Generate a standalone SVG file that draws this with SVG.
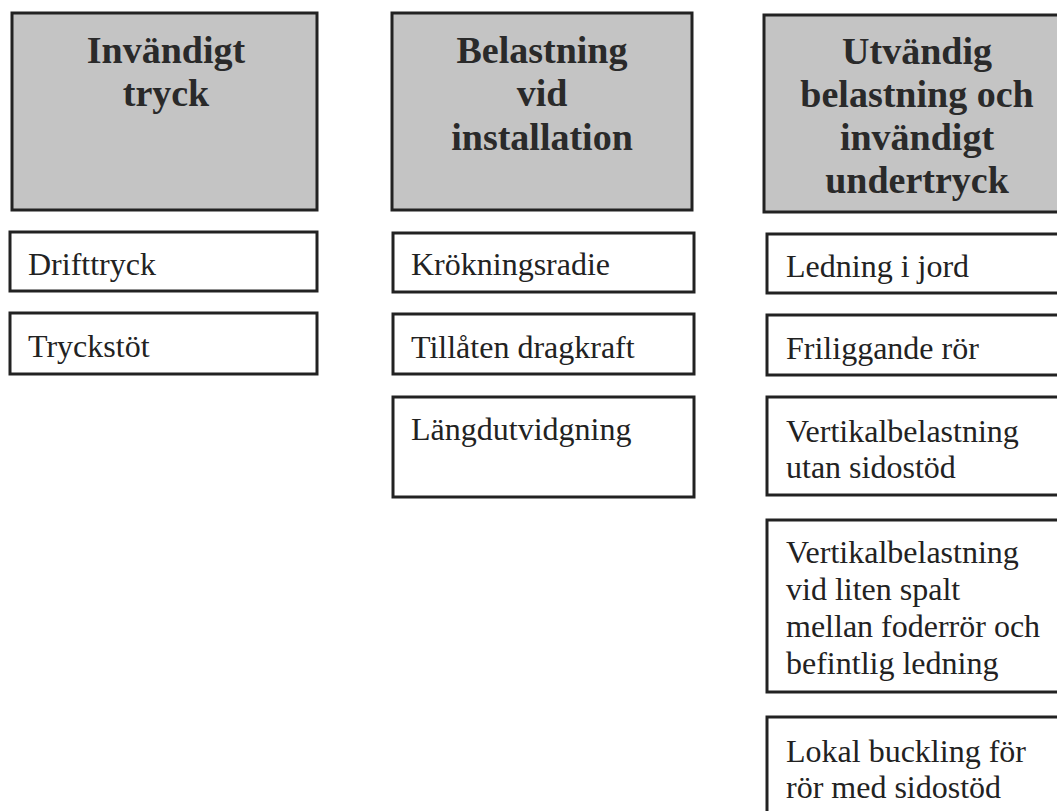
<svg xmlns="http://www.w3.org/2000/svg" width="1057" height="811" viewBox="0 0 1057 811">
<style>
.head{fill:#c4c4c4;stroke:#222;stroke-width:3}
.box{fill:#fff;stroke:#222;stroke-width:3}
.ht{font-family:"Liberation Serif",serif;font-weight:bold;font-size:38px;fill:#2a2a2a;text-anchor:middle}
.bt{font-family:"Liberation Serif",serif;font-size:32px;fill:#222}
</style>
<rect width="1057" height="811" fill="#fff"/>
<g id="head1"><rect class="head" x="12" y="13" width="305" height="197"/>
<text class="ht" x="166" y="63">Invändigt</text><text class="ht" x="166" y="106">tryck</text></g>
<g id="head2"><rect class="head" x="392" y="13" width="300" height="197"/>
<text class="ht" x="542" y="63">Belastning</text><text class="ht" x="542" y="106">vid</text><text class="ht" x="542" y="150">installation</text></g>
<g id="head3"><rect class="head" x="764" y="15" width="310" height="197"/>
<text class="ht" x="917" y="64">Utvändig</text><text class="ht" x="917" y="107">belastning och</text><text class="ht" x="917" y="150">invändigt</text><text class="ht" x="917" y="193">undertryck</text></g>
<g id="c1r1"><rect class="box" x="10" y="232" width="307" height="59"/><text class="bt" x="28" y="275">Drifttryck</text></g>
<g id="c1r2"><rect class="box" x="10" y="313" width="307" height="61"/><text class="bt" x="28" y="357">Tryckstöt</text></g>
<g id="c2r1"><rect class="box" x="393" y="233" width="301" height="59"/><text class="bt" x="411" y="275">Krökningsradie</text></g>
<g id="c2r2"><rect class="box" x="393" y="314" width="301" height="60"/><text class="bt" x="411" y="358">Tillåten dragkraft</text></g>
<g id="c2r3"><rect class="box" x="393" y="397" width="301" height="100"/><text class="bt" x="411" y="440">Längdutvidgning</text></g>
<g id="c3r1"><rect class="box" x="767" y="234" width="310" height="59"/><text class="bt" x="786" y="277">Ledning i jord</text></g>
<g id="c3r2"><rect class="box" x="767" y="315" width="310" height="60"/><text class="bt" x="786" y="359">Friliggande rör</text></g>
<g id="c3r3"><rect class="box" x="767" y="397" width="310" height="98"/><text class="bt" x="786" y="442">Vertikalbelastning</text><text class="bt" x="786" y="478">utan sidostöd</text></g>
<g id="c3r4"><rect class="box" x="767" y="520" width="310" height="172"/><text class="bt" x="786" y="563">Vertikalbelastning</text><text class="bt" x="786" y="600">vid liten spalt</text><text class="bt" x="786" y="637">mellan foderrör och</text><text class="bt" x="786" y="674">befintlig ledning</text></g>
<g id="c3r5"><rect class="box" x="767" y="717" width="310" height="110"/><text class="bt" x="786" y="762">Lokal buckling för</text><text class="bt" x="786" y="798">rör med sidostöd</text></g>
<g id="connectors"></g>
</svg>
